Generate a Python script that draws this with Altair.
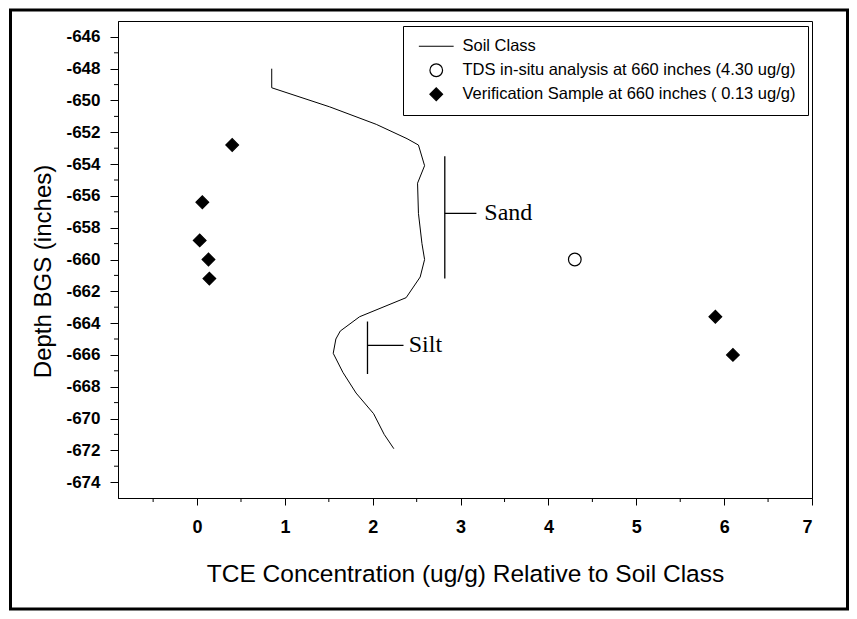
import altair as alt
import pandas as pd

SOIL = "Soil Class"
TDS = "TDS in-situ analysis at 660 inches (4.30 ug/g)"
VER = "Verification Sample at 660 inches ( 0.13 ug/g)"
series_names = [SOIL, TDS, VER]

# Soil class profile
soil_x = [0.85, 0.85, 1.51, 2.04, 2.39, 2.52, 2.59, 2.51, 2.52, 2.56, 2.59, 2.54, 2.38,
          1.85, 1.63, 1.58, 1.55, 1.66, 1.81, 2.01, 2.13, 2.24]
soil_y = [-648.0, -649.2, -650.4, -651.5, -652.4, -652.8, -654.1, -655.2, -657.1, -659.0,
          -660.0, -661.1, -662.4, -663.6, -664.5, -665.0, -665.9, -667.1, -668.4, -669.7,
          -671.0, -671.9]

# Verification samples
ver_x = [0.40, 0.06, 0.03, 0.13, 0.14, 5.90, 6.10]
ver_y = [-652.8, -656.4, -658.8, -660.0, -661.2, -663.6, -666.0]

# TDS in-situ analysis
tds_x = [4.30]
tds_y = [-660.0]

# axis ticks
x_ticks = [0, 1, 2, 3, 4, 5, 6, 7]
x_minor = [-0.5, 0.5, 1.5, 2.5, 3.5, 4.5, 5.5, 6.5]
y_ticks = [-646, -648, -650, -652, -654, -656, -658, -660, -662, -664, -666, -668, -670, -672, -674]
y_minor = [-647, -649, -651, -653, -655, -657, -659, -661, -663, -665, -667, -669, -671, -673]

# soil class brackets
seg_x1 = [2.82, 2.82, 1.94, 1.94]
seg_x2 = [2.82, 3.18, 1.94, 2.35]
seg_y1 = [-653.5, -657.1, -663.9, -665.4]
seg_y2 = [-661.2, -657.1, -667.2, -665.4]
label_text = ["Sand", "Silt"]
label_x = [3.27, 2.41]
label_y = [-657.1, -665.4]

W, H = 694, 477
FONT = "Liberation Sans"

xs = alt.Scale(domain=[-0.9, 7], nice=False, zero=False)
ys = alt.Scale(domain=[-675, -645], nice=False, zero=False)

soil_df = pd.DataFrame({"x": soil_x, "y": soil_y, "order": list(range(len(soil_x)))})
pts_df = pd.DataFrame({
    "x": tds_x + ver_x,
    "y": tds_y + ver_y,
    "series": [TDS] * len(tds_x) + [VER] * len(ver_x),
})
seg_df = pd.DataFrame({"x": seg_x1, "x2": seg_x2, "y": seg_y1, "y2": seg_y2})
lab_df = pd.DataFrame({"t": label_text, "x": label_x, "y": label_y})
xm_df = pd.DataFrame({"x": x_minor})
ym_df = pd.DataFrame({"y": y_minor})

x_axis = alt.Axis(values=x_ticks, labelExpr="toString(datum.value)",
                  title="TCE Concentration (ug/g) Relative to Soil Class",
                  grid=False, tickSize=7, labelPadding=13, labelFontSize=18, labelFontWeight="bold",
                  labelFont=FONT, labelColor="black", titleFont=FONT, titleFontSize=24.5,
                  titleFontWeight="normal", titleColor="black", titlePadding=26,
                  labelOverlap=False, domainColor="black", tickColor="black")
y_axis = alt.Axis(values=y_ticks, labelExpr="toString(datum.value)", title="Depth BGS (inches)",
                  grid=False, tickSize=8, labelOverlap=False,
                  labelPadding=10, labelFontSize=17, labelFontWeight="bold", labelFont=FONT,
                  labelColor="black", titleFont=FONT, titleFontSize=24, titleFontWeight="normal",
                  titleColor="black", titleX=-75, titleY=250, titleBaseline="middle",
                  domainColor="black", tickColor="black")

X = alt.X("x:Q", scale=xs, axis=x_axis)
Y = alt.Y("y:Q", scale=ys, axis=y_axis)

soil_line = alt.Chart(soil_df).mark_line(color="black", strokeWidth=1).encode(
    x=X, y=Y, order="order:Q")

legend = alt.Legend(title=None, orient="none", legendX=285, legendY=5, strokeColor="black",
                    fillColor="white", padding=12, labelFont=FONT, labelFontSize=16.5,
                    labelColor="black", symbolOffset=13, labelOffset=18, rowPadding=6,
                    symbolStrokeWidth=1.2, symbolSize=160, labelLimit=0)
points = alt.Chart(pts_df).mark_point(opacity=1, strokeWidth=1.2, size=160).encode(
    x=X, y=Y,
    shape=alt.Shape("series:N", scale=alt.Scale(domain=series_names,
                                                range=["M-2.75,0H2.75", "circle", "diamond"]),
                    legend=legend),
    fill=alt.Fill("series:N", scale=alt.Scale(domain=series_names,
                                              range=["transparent", "white", "black"]),
                  legend=legend),
    stroke=alt.Stroke("series:N", scale=alt.Scale(domain=series_names,
                                                  range=["black", "black", "black"]),
                      legend=legend),
)

segs = alt.Chart(seg_df).mark_rule(color="black", strokeWidth=1.3).encode(
    x=X, x2="x2:Q", y=Y, y2="y2:Q")

labels = alt.Chart(lab_df).mark_text(align="left", baseline="middle", font="Liberation Serif",
                                     fontSize=24, color="black").encode(
    x=X, y=Y, text="t:N")

x_minor_ticks = alt.Chart(xm_df).mark_rule(color="black", strokeWidth=1).encode(
    x=X, y=alt.value(H), y2=alt.value(H + 4))
y_minor_ticks = alt.Chart(ym_df).mark_rule(color="black", strokeWidth=1).encode(
    y=Y, x=alt.value(-4), x2=alt.value(0))

frame = alt.Chart(pd.DataFrame({"a": [0]})).mark_rect(
    fillOpacity=0, stroke="black", strokeWidth=3).encode(
    x=alt.value(-107.5), x2=alt.value(729.5), y=alt.value(-11), y2=alt.value(588))

chart = alt.layer(frame, soil_line, segs, labels, points, x_minor_ticks, y_minor_ticks).properties(
    width=W, height=H,
    autosize=alt.AutoSizeParams(type="none"),
    padding={"left": 110, "top": 13, "right": 37, "bottom": 113},
    background="white",
).configure_view(stroke="black", strokeWidth=1).configure_axis(labelOverlap=False)

chart.save("out.html", embed_options={"renderer": "svg", "actions": False})
